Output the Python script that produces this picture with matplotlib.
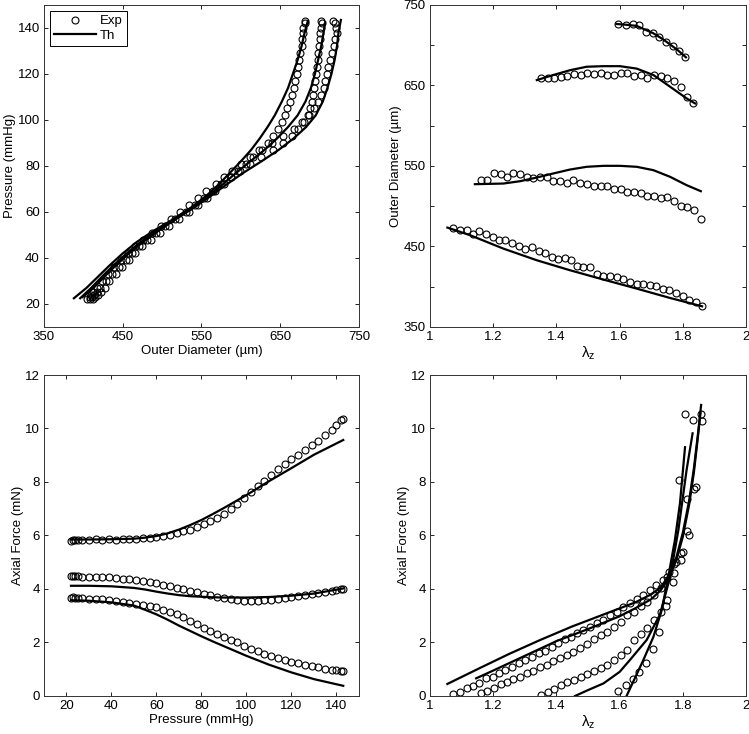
import matplotlib
matplotlib.use('Agg')
import matplotlib.pyplot as plt
from matplotlib.lines import Line2D

# ---- top left: pressure vs outer diameter (3 axial stretches) ----
p_exp = [22, 23, 24, 25, 27, 30, 33, 36, 39, 42, 45, 48, 51, 54, 57, 60, 63, 66, 69, 72,
         75, 78, 81, 84, 87, 90, 93, 96, 99, 102, 105, 108, 111, 114, 117, 120, 123, 126,
         129, 132, 135, 138, 140, 142, 143]
d_exp1 = [405, 408, 410, 412, 417, 424, 431, 439, 448, 457, 466, 476, 487, 499, 511, 523,
          534, 545, 556, 568, 579, 589, 600, 611, 623, 634, 641, 647, 652, 656, 659, 662,
          664.5, 667, 669, 671, 672.5, 674, 675.5, 677, 677.5, 678.5, 679.5, 681, 682]
d_exp2 = [408, 411, 414, 417, 421, 429, 437, 445, 454, 462, 471, 481, 492, 504, 517, 530,
          542, 553, 564, 575, 588, 599, 612, 626, 641, 654, 665, 673, 680, 685, 688, 690.5,
          692, 693.5, 694.5, 695.5, 696.5, 697.5, 698.5, 699.5, 700.5, 701, 702, 703, 702]
d_exp3 = [412, 415, 419, 422, 427, 433, 441, 449, 458, 466, 475, 486, 497, 509, 521, 534,
          546, 557, 567, 578, 588, 597, 606, 616, 627, 640, 654, 667, 678, 686, 693, 698,
          702, 705, 707, 709, 711, 713, 715.5, 718, 720, 721.5, 721, 719, 717]

p_th1 = [22.5, 27, 32, 37, 42, 47, 52, 57, 62, 67, 72, 77, 82, 87, 92, 97, 102, 108, 114,
         120, 126, 132, 138, 143]
d_th1 = [388, 404, 419, 434, 450, 468, 490, 515, 537, 556, 572, 586, 600, 613, 624, 634,
         643, 652, 660, 666, 672, 677, 681, 685]
p_th2 = [22.5, 27, 32, 37, 42, 47, 52, 57, 62, 67, 72, 77, 82, 87, 92, 97, 102, 108, 114,
         120, 126, 132, 138, 142.5]
d_th2 = [396, 410, 424, 439, 455, 473, 493, 515, 538, 559, 577, 594, 612, 630, 646, 660,
         672, 682, 689, 694, 698, 702, 705, 707]
p_th3 = [23, 27, 32, 37, 42, 47, 52, 57, 62, 67, 72, 77, 82, 87, 92, 97, 102, 108, 114,
         120, 126, 132, 138, 143.5]
d_th3 = [399, 413, 427, 442, 458, 476, 496, 518, 541, 562, 582, 603, 626, 648, 667, 683,
         695, 704, 710, 715, 719, 722, 724, 727]

# ---- bottom left: axial force vs pressure ----
f_exp1 = [5.80, 5.82, 5.84, 5.85, 5.84, 5.82, 5.86, 5.85, 5.86, 5.85, 5.86, 5.87, 5.88,
          5.89, 5.92, 5.95, 5.99, 6.03, 6.09, 6.15, 6.21, 6.30, 6.42, 6.53, 6.66, 6.80,
          6.99, 7.18, 7.40, 7.64, 7.85, 8.05, 8.28, 8.48, 8.67, 8.86, 9.01, 9.18, 9.38,
          9.55, 9.74, 9.96, 10.12, 10.30, 10.34]
f_exp2 = [4.48, 4.49, 4.48, 4.47, 4.46, 4.45, 4.45, 4.44, 4.43, 4.41, 4.39, 4.36, 4.33,
          4.29, 4.25, 4.21, 4.16, 4.10, 4.04, 3.99, 3.93, 3.87, 3.82, 3.77, 3.71, 3.66,
          3.62, 3.58, 3.56, 3.54, 3.55, 3.57, 3.60, 3.63, 3.67, 3.71, 3.75, 3.78, 3.82,
          3.85, 3.89, 3.93, 3.96, 3.99, 4.01]
f_exp3 = [3.68, 3.69, 3.67, 3.66, 3.66, 3.64, 3.63, 3.61, 3.59, 3.56, 3.53, 3.49, 3.45,
          3.40, 3.36, 3.31, 3.23, 3.15, 3.06, 2.95, 2.82, 2.68, 2.56, 2.44, 2.33, 2.22,
          2.11, 2.00, 1.88, 1.77, 1.67, 1.58, 1.50, 1.43, 1.35, 1.28, 1.22, 1.17, 1.12,
          1.07, 1.02, 0.98, 0.96, 0.94, 0.92]
p_thf = [22, 30, 40, 50, 55, 60, 65, 70, 75, 80, 85, 90, 95, 100, 110, 120, 130, 143]
f_th1 = [5.85, 5.85, 5.86, 5.88, 5.92, 5.98, 6.08, 6.22, 6.39, 6.58, 6.80, 7.03, 7.27,
         7.51, 8.03, 8.52, 9.02, 9.57]
f_th2 = [4.12, 4.12, 4.10, 4.04, 3.98, 3.90, 3.83, 3.77, 3.73, 3.71, 3.69, 3.68, 3.68,
         3.68, 3.70, 3.75, 3.83, 4.02]
f_th3 = [3.58, 3.56, 3.50, 3.38, 3.22, 3.05, 2.85, 2.63, 2.43, 2.23, 2.04, 1.86, 1.68,
         1.50, 1.17, 0.88, 0.63, 0.38]

# ---- right column: 4 pressures, axial stretch sweep ----
lam_a = [1.596, 1.620, 1.643, 1.662, 1.684, 1.705, 1.726, 1.747, 1.768, 1.789, 1.807]
od_a = [726, 725, 726.4, 725, 717, 715, 710.6, 704.4, 699, 693, 685.7]
fz_a = [0.20, 0.41, 0.62, 0.91, 1.25, 1.74, 2.38, 3.36, 4.25, 8.07, 10.55]

lam_b = [1.350, 1.372, 1.393, 1.415, 1.435, 1.456, 1.477, 1.498, 1.519, 1.540, 1.561, 1.582,
         1.603, 1.624, 1.646, 1.667, 1.688, 1.709, 1.730, 1.751, 1.772, 1.793, 1.814, 1.833]
od_b = [658.8, 658.8, 658.8, 661, 661.7, 664, 663, 666, 664, 666, 663, 663, 666, 666,
        661.7, 663, 659.6, 663, 661.7, 658.8, 655.5, 647.6, 636, 627.7]
fz_b = [0.04, 0.14, 0.25, 0.41, 0.53, 0.60, 0.72, 0.82, 0.95, 1.03, 1.16, 1.35, 1.53,
        1.72, 2.10, 2.30, 2.55, 2.84, 3.15, 3.59, 4.60, 5.08, 7.36, 10.32]

lam_c = [1.160, 1.181, 1.203, 1.224, 1.243, 1.264, 1.285, 1.306, 1.327, 1.348, 1.369, 1.390,
         1.411, 1.432, 1.454, 1.475, 1.498, 1.519, 1.540, 1.561, 1.582, 1.603, 1.624, 1.646,
         1.667, 1.688, 1.709, 1.730, 1.751, 1.772, 1.793, 1.814, 1.835, 1.858]
od_c = [533.2, 532.4, 540.7, 540, 536.5, 540.7, 540, 536.5, 535.3, 536.5, 536.5, 531.6,
        531.6, 529, 532.4, 529, 528, 525, 525.7, 525.7, 521.6, 521.6, 517.9, 517.9, 516.6,
        513.3, 513.3, 510.8, 511.7, 506.3, 500, 499.2, 495.9, 484.7]
fz_c = [0.10, 0.20, 0.29, 0.45, 0.53, 0.62, 0.72, 0.85, 0.95, 1.07, 1.16, 1.29, 1.41, 1.53,
        1.66, 1.78, 1.94, 2.12, 2.28, 2.41, 2.59, 2.78, 3.03, 3.15, 3.36, 3.53, 3.78, 4.02,
        4.45, 4.95, 5.35, 6.15, 7.75, 10.55]

lam_d = [1.074, 1.095, 1.116, 1.135, 1.156, 1.177, 1.198, 1.219, 1.238, 1.259, 1.281, 1.302,
         1.323, 1.344, 1.363, 1.385, 1.405, 1.426, 1.447, 1.464, 1.485, 1.506, 1.530, 1.549,
         1.570, 1.591, 1.612, 1.633, 1.654, 1.675, 1.696, 1.715, 1.736, 1.757, 1.778, 1.800,
         1.821, 1.842, 1.861]
od_d = [473.5, 471, 470.2, 466, 469, 466, 462, 458.6, 458.6, 454.5, 450.3, 447.4, 449.5,
        444, 442.4, 437, 435, 435.8, 433, 425.4, 424.6, 424.6, 415.5, 413, 413.8, 412.2,
        410, 406, 403, 404, 401.8, 400.6, 397.7, 395.6, 392.3, 388, 383.2, 381, 375.7]
fz_d = [0.07, 0.16, 0.29, 0.37, 0.50, 0.66, 0.72, 0.87, 0.97, 1.10, 1.22, 1.35, 1.47, 1.62,
        1.70, 1.84, 1.97, 2.12, 2.22, 2.34, 2.47, 2.59, 2.72, 2.84, 3.03, 3.15, 3.34, 3.47,
        3.62, 3.78, 3.96, 4.15, 4.35, 4.65, 5.00, 5.40, 6.00, 7.80, 10.29]

# theory, outer diameter vs stretch
lam_tod_a = [1.59, 1.62, 1.654, 1.68, 1.707, 1.735, 1.76, 1.785, 1.81]
tod_a = [726.4, 725.5, 724, 719.5, 714.8, 708, 701, 693.5, 685]
lam_tod_b = [1.338, 1.39, 1.443, 1.496, 1.548, 1.601, 1.654, 1.707, 1.76, 1.812, 1.839]
tod_b = [656.7, 663, 669, 673.3, 674, 674, 671, 663, 648.4, 634, 627.7]
lam_tod_c = [1.142, 1.232, 1.285, 1.338, 1.39, 1.443, 1.496, 1.549, 1.601, 1.654, 1.707,
             1.76, 1.812, 1.857]
tod_c = [527.4, 528.2, 531.1, 535.7, 540.7, 545.6, 549, 550.2, 550.2, 549, 544.8, 536.5,
         526.2, 518.7]
lam_tod_d = [1.055, 1.127, 1.232, 1.338, 1.443, 1.549, 1.654, 1.76, 1.861]
tod_d = [473.5, 464, 447.4, 432.9, 420.5, 408.9, 397.7, 386, 375.7]

# theory, axial force vs stretch
lam_tf_a = [1.622, 1.643, 1.675, 1.707, 1.733, 1.754, 1.775, 1.791, 1.807]
tf_a = [0.0, 0.53, 1.34, 2.21, 3.2, 4.45, 5.83, 7.2, 9.3]
lam_tf_b = [1.459, 1.50, 1.549, 1.60, 1.633, 1.686, 1.728, 1.76, 1.786, 1.812, 1.831]
tf_b = [0.0, 0.22, 0.47, 0.90, 1.35, 2.10, 3.05, 4.46, 6.2, 8.45, 9.82]
lam_tf_c = [1.146, 1.2, 1.3, 1.4, 1.5, 1.6, 1.65, 1.70, 1.73, 1.76, 1.78, 1.80, 1.82, 1.835,
            1.848, 1.856]
tf_c = [0.66, 0.95, 1.50, 2.05, 2.50, 2.98, 3.28, 3.62, 3.95, 4.50, 5.10, 5.95, 7.15, 8.35,
        9.70, 10.60]
lam_tf_d = [1.055, 1.15, 1.25, 1.35, 1.45, 1.55, 1.65, 1.70, 1.73, 1.76, 1.78, 1.80, 1.82,
            1.835, 1.848, 1.858]
tf_d = [0.45, 1.0, 1.57, 2.1, 2.6, 3.05, 3.5, 3.8, 4.05, 4.6, 5.2, 6.1, 7.3, 8.5, 9.8, 10.88]

plt.rcParams['font.family'] = ['Liberation Sans', 'DejaVu Sans']
plt.rcParams['font.size'] = 9.5
plt.rcParams['mathtext.fontset'] = 'custom'
plt.rcParams['mathtext.rm'] = 'Liberation Sans'
plt.rcParams['mathtext.it'] = 'Liberation Sans'

fig = plt.figure(figsize=(7.49, 7.34), dpi=100)
ax_tl = fig.add_axes([0.0587, 0.5545, 0.4206, 0.4387])
ax_tr = fig.add_axes([0.5741, 0.5545, 0.4219, 0.4387])
ax_bl = fig.add_axes([0.0587, 0.0518, 0.4206, 0.4373])
ax_br = fig.add_axes([0.5741, 0.0518, 0.4219, 0.4373])

mk = dict(ls='none', marker='o', mfc='none', mec='k', ms=5, mew=0.8)
ln = dict(color='k', lw=1.6)


def style(ax):
    ax.tick_params(direction='in', top=True, right=True, length=3, width=0.6, pad=3,
                   labelsize=9.5, colors='k')
    for s in ax.spines.values():
        s.set_linewidth(0.7)
        s.set_color('#333333')


# top left
for d, ln_p, ln_d in [(d_exp1, p_th1, d_th1), (d_exp2, p_th2, d_th2), (d_exp3, p_th3, d_th3)]:
    ax_tl.plot(d, p_exp, **mk)
    ax_tl.plot(ln_d, ln_p, **ln)
ax_tl.set_xlim(350, 750)
ax_tl.set_ylim(10, 150)
ax_tl.set_xticks([350, 450, 550, 650, 750])
ax_tl.set_yticks([20, 40, 60, 80, 100, 120, 140])
ax_tl.set_xlabel('Outer Diameter (µm)', labelpad=1)
ax_tl.set_ylabel('Pressure (mmHg)', labelpad=1)
handles = [Line2D([], [], **mk), Line2D([], [], **ln)]
leg = ax_tl.legend(handles, ['Exp', 'Th'], loc='upper left', fancybox=False,
                   framealpha=1, edgecolor='k', handlelength=3.2, borderpad=0.3,
                   labelspacing=0.2, handletextpad=0.3, borderaxespad=0.45, fontsize=9.5)
leg.get_frame().set_linewidth(0.7)
style(ax_tl)

# top right
for lam, od, tl, to in [(lam_a, od_a, lam_tod_a, tod_a), (lam_b, od_b, lam_tod_b, tod_b),
                        (lam_c, od_c, lam_tod_c, tod_c), (lam_d, od_d, lam_tod_d, tod_d)]:
    ax_tr.plot(lam, od, **mk)
    ax_tr.plot(tl, to, **ln)
ax_tr.set_xlim(1, 2)
ax_tr.set_ylim(350, 750)
ax_tr.set_xticks([1, 1.2, 1.4, 1.6, 1.8, 2])
ax_tr.set_xticklabels(['1', '1.2', '1.4', '1.6', '1.8', '2'])
ax_tr.set_yticks([350, 400, 450, 500, 550, 600, 650, 700, 750])
ax_tr.set_yticklabels(['350', '', '450', '', '550', '', '650', '', '750'])
ax_tr.set_xlabel(r'$\mathregular{\lambda_z}$', labelpad=1, fontsize=11)
ax_tr.set_ylabel('Outer Diameter (µm)', labelpad=1)
style(ax_tr)

# bottom left
for f, ft in [(f_exp1, f_th1), (f_exp2, f_th2), (f_exp3, f_th3)]:
    ax_bl.plot(p_exp, f, **mk)
    ax_bl.plot(p_thf, ft, **ln)
ax_bl.set_xlim(10, 150)
ax_bl.set_ylim(0, 12)
ax_bl.set_xticks([20, 40, 60, 80, 100, 120, 140])
ax_bl.set_yticks([0, 2, 4, 6, 8, 10, 12])
ax_bl.set_xlabel('Pressure (mmHg)', labelpad=1)
ax_bl.set_ylabel('Axial Force (mN)', labelpad=1)
style(ax_bl)

# bottom right
for lam, fz, tl, tf in [(lam_a, fz_a, lam_tf_a, tf_a), (lam_b, fz_b, lam_tf_b, tf_b),
                        (lam_c, fz_c, lam_tf_c, tf_c), (lam_d, fz_d, lam_tf_d, tf_d)]:
    ax_br.plot(lam, fz, **mk)
    ax_br.plot(tl, tf, **ln)
ax_br.set_xlim(1, 2)
ax_br.set_ylim(0, 12)
ax_br.set_xticks([1, 1.2, 1.4, 1.6, 1.8, 2])
ax_br.set_xticklabels(['1', '1.2', '1.4', '1.6', '1.8', '2'])
ax_br.set_yticks([0, 2, 4, 6, 8, 10, 12])
ax_br.set_xlabel(r'$\mathregular{\lambda_z}$', labelpad=1, fontsize=11)
ax_br.set_ylabel('Axial Force (mN)', labelpad=1)
style(ax_br)

fig.savefig('out.png', dpi=100)
